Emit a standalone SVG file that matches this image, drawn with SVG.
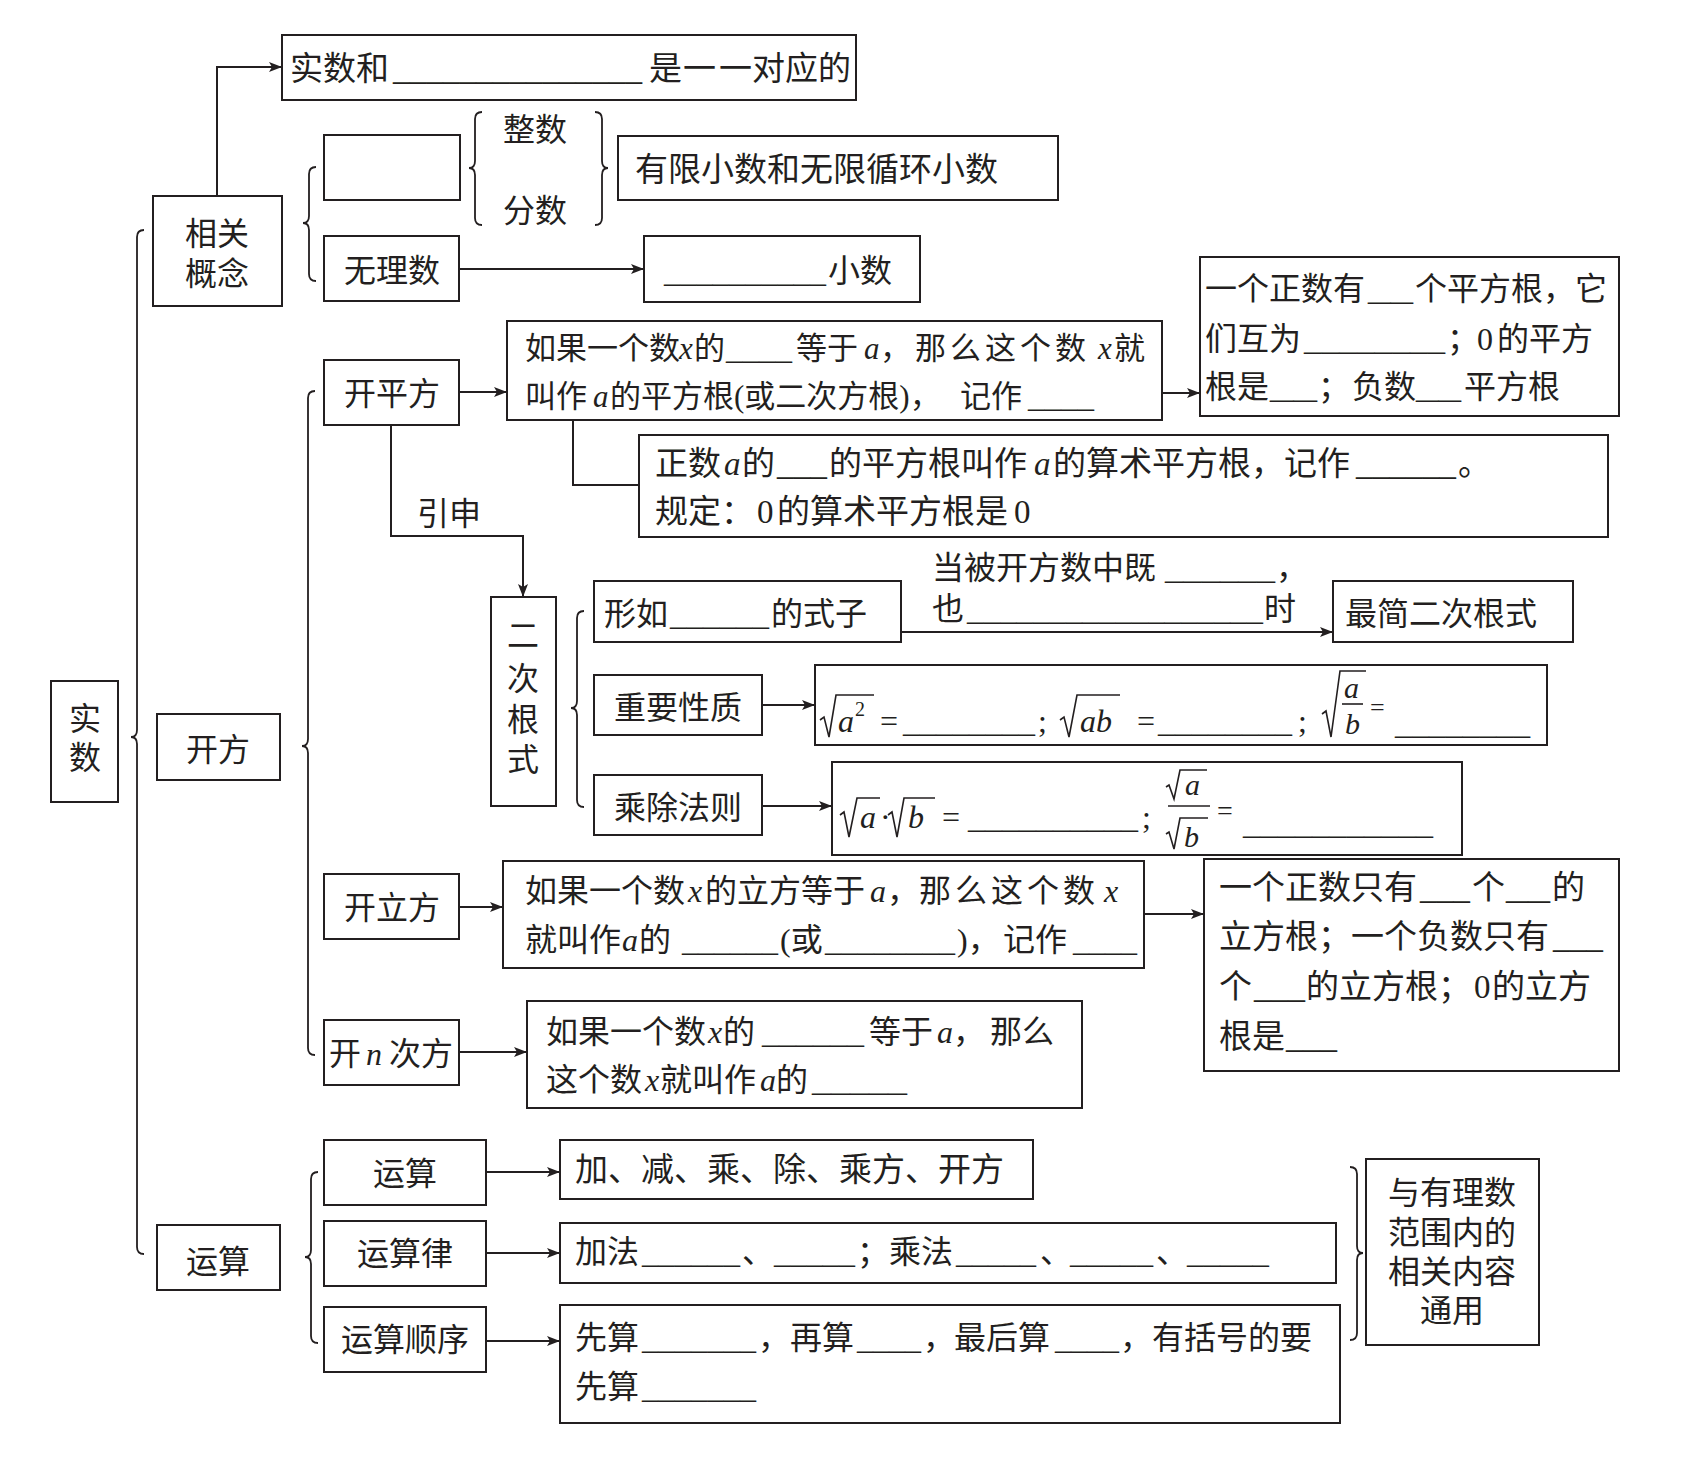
<svg xmlns="http://www.w3.org/2000/svg" width="1687" height="1465" viewBox="0 0 1687 1465">
<style>
.bx{fill:#fff;stroke:#231f20;stroke-width:2}
.ln{fill:none;stroke:#231f20;stroke-width:2}
.br{fill:none;stroke:#231f20;stroke-width:1.8}
.rd{fill:none;stroke:#231f20;stroke-width:1.6;stroke-linejoin:miter}
text{font-family:"Liberation Serif","Noto Sans CJK SC",serif;font-size:32px;fill:#231f20}
.s31{font-size:31px}
.s33{font-size:33px}
.i{font-style:italic}
.mid{text-anchor:middle}
</style>
<defs>
<marker id="ah" markerWidth="13" markerHeight="10" refX="13" refY="5" orient="auto" markerUnits="userSpaceOnUse"><path d="M0,0 L13,5 L0,10 L3,5 Z" fill="#231f20"/></marker>
</defs>
<rect width="1687" height="1465" fill="#fff"/>

<g id="connectors">
<path class="ln" d="M217,196 V67 H282" marker-end="url(#ah)"/>
<path class="ln" d="M459,269 H644" marker-end="url(#ah)"/>
<path class="ln" d="M459,392 H507" marker-end="url(#ah)"/>
<path class="ln" d="M1162,393 H1200" marker-end="url(#ah)"/>
<path class="ln" d="M573,420 V485 H639"/>
<path class="ln" d="M391,425 V536 H523 V597" marker-end="url(#ah)"/>
<path class="ln" d="M901,632 H1333" marker-end="url(#ah)"/>
<path class="ln" d="M762,705 H815" marker-end="url(#ah)"/>
<path class="ln" d="M762,806 H832" marker-end="url(#ah)"/>
<path class="ln" d="M459,907 H503" marker-end="url(#ah)"/>
<path class="ln" d="M1144,914 H1204" marker-end="url(#ah)"/>
<path class="ln" d="M459,1052 H527" marker-end="url(#ah)"/>
<path class="ln" d="M486,1172 H560" marker-end="url(#ah)"/>
<path class="ln" d="M486,1253 H560" marker-end="url(#ah)"/>
<path class="ln" d="M486,1341 H560" marker-end="url(#ah)"/>
<path class="br" d="M144,230 Q137,230 137,237 L137,730 Q137,737 131,737 Q137,737 137,744 L137,1247 Q137,1254 144,1254"/>
<path class="br" d="M316,167 Q309,167 309,174 L309,216 Q309,223 303,223 Q309,223 309,230 L309,274 Q309,281 316,281"/>
<path class="br" d="M482,112 Q475,112 475,119 L475,161 Q475,168 469,168 Q475,168 475,175 L475,218 Q475,225 482,225"/>
<path class="br" d="M595,112 Q602,112 602,119 L602,161 Q602,168 608,168 Q602,168 602,175 L602,218 Q602,225 595,225"/>
<path class="br" d="M315,391 Q308,391 308,398 L308,739 Q308,746 302,746 Q308,746 308,753 L308,1048 Q308,1055 315,1055"/>
<path class="br" d="M584,611 Q577,611 577,618 L577,701 Q577,708 571,708 Q577,708 577,715 L577,800 Q577,807 584,807"/>
<path class="br" d="M318,1172 Q311,1172 311,1179 L311,1250 Q311,1257 305,1257 Q311,1257 311,1264 L311,1336 Q311,1343 318,1343"/>
<path class="br" d="M1350,1167 Q1357,1167 1357,1174 L1357,1246 Q1357,1253 1363,1253 Q1357,1253 1357,1260 L1357,1333 Q1357,1340 1350,1340"/>
<text x="417" y="525">引申</text>
<text x="932" y="579">当被开方数中既<tspan x="1165" textLength="110" lengthAdjust="spacingAndGlyphs">______</tspan><tspan x="1276">，</tspan></text>
<text x="932" y="620">也<tspan x="967" textLength="296" lengthAdjust="spacingAndGlyphs">__________________</tspan><tspan x="1264">时</tspan></text>
</g>

<g id="n-shishu"><rect class="bx" x="51" y="681" width="67" height="121"/><text class="mid" x="85" y="730">实</text><text class="mid" x="85" y="769">数</text></g>
<g id="n-xiangguan"><rect class="bx" x="153" y="196" width="129" height="110"/><text class="mid" x="217" y="245">相关</text><text class="mid" x="217" y="285">概念</text></g>
<g id="n-top"><rect class="bx" x="282" y="35" width="574" height="65"/><text class="s33" x="290" y="80">实数和<tspan x="393" textLength="249" lengthAdjust="spacingAndGlyphs">_______________</tspan><tspan x="649">是</tspan><tspan x="683" letter-spacing="3">一一</tspan><tspan x="752">对应的</tspan></text></g>
<g id="n-rational"><rect class="bx" x="324" y="135" width="136" height="65"/></g>
<g id="n-intfrac"><text class="mid" x="535" y="141">整数</text><text class="mid" x="535" y="222">分数</text></g>
<g id="n-finite"><rect class="bx" x="618" y="136" width="440" height="64"/><text class="s33" x="635" y="181">有限小数和无限循环小数</text></g>
<g id="n-irrational"><rect class="bx" x="324" y="236" width="135" height="65"/><text class="mid" x="392" y="282">无理数</text></g>
<g id="n-decimal"><rect class="bx" x="644" y="236" width="276" height="66"/><text x="664" y="282"><tspan x="664" textLength="162" lengthAdjust="spacingAndGlyphs">__________</tspan><tspan x="828">小数</tspan></text></g>

<g id="n-kaifang"><rect class="bx" x="157" y="714" width="123" height="66"/><text class="mid" x="218" y="761">开方</text></g>
<g id="n-kpf"><rect class="bx" x="324" y="360" width="135" height="65"/><text class="mid" x="392" y="405">开平方</text></g>
<g id="n-kpf-def"><rect class="bx" x="507" y="321" width="655" height="99"/>
<text class="s31" x="525" y="359">如果一个数<tspan class="i" x="679">x</tspan><tspan x="694">的</tspan><tspan x="726" textLength="66" lengthAdjust="spacingAndGlyphs">____</tspan><tspan x="796">等于</tspan><tspan class="i" x="864">a</tspan><tspan x="880">，</tspan><tspan x="915" letter-spacing="4">那么这个数</tspan><tspan class="i" x="1098">x</tspan><tspan x="1114">就</tspan></text>
<text class="s31" x="525" y="407">叫作<tspan class="i" x="593">a</tspan><tspan x="610">的平方根(或二次方根)，</tspan><tspan x="960">记作</tspan><tspan x="1028" textLength="66" lengthAdjust="spacingAndGlyphs">____</tspan></text></g>
<g id="n-kpf-prop"><rect class="bx" x="1200" y="257" width="419" height="159"/>
<text x="1205" y="300">一个正数有<tspan x="1368" textLength="45" lengthAdjust="spacingAndGlyphs">__</tspan><tspan x="1415">个平方根，它</tspan></text>
<text x="1205" y="350">们互为<tspan x="1304" textLength="141" lengthAdjust="spacingAndGlyphs">________</tspan><tspan x="1447">；</tspan><tspan x="1477">0</tspan><tspan x="1497">的平方</tspan></text>
<text x="1205" y="398">根是<tspan x="1270" textLength="47" lengthAdjust="spacingAndGlyphs">__</tspan><tspan x="1318">；</tspan><tspan x="1352">负数</tspan><tspan x="1416" textLength="45" lengthAdjust="spacingAndGlyphs">__</tspan><tspan x="1464">平方根</tspan></text></g>
<g id="n-arith"><rect class="bx" x="639" y="435" width="969" height="102"/>
<text class="s33" x="655" y="475">正数<tspan class="i" x="724">a</tspan><tspan x="742">的</tspan><tspan x="777" textLength="50" lengthAdjust="spacingAndGlyphs">___</tspan><tspan x="829">的平方根叫作</tspan><tspan class="i" x="1034">a</tspan><tspan x="1053">的算术平方根，记作</tspan><tspan x="1356" textLength="100" lengthAdjust="spacingAndGlyphs">______</tspan><tspan x="1458">。</tspan></text>
<text class="s33" x="655" y="523">规定：<tspan x="757">0</tspan><tspan x="777">的算术平方根是</tspan><tspan x="1014">0</tspan></text></g>

<g id="n-ecgs"><rect class="bx" x="491" y="597" width="65" height="209"/><text class="mid" x="523" y="647">二</text><text class="mid" x="523" y="690">次</text><text class="mid" x="523" y="731">根</text><text class="mid" x="523" y="771">式</text></g>
<g id="n-xingru"><rect class="bx" x="594" y="581" width="307" height="61"/><text x="604" y="625">形如<tspan x="670" textLength="99" lengthAdjust="spacingAndGlyphs">______</tspan><tspan x="771">的式子</tspan></text></g>
<g id="n-zuijian"><rect class="bx" x="1333" y="581" width="240" height="61"/><text x="1345" y="625">最简二次根式</text></g>
<g id="n-zyxz"><rect class="bx" x="594" y="675" width="168" height="60"/><text class="mid" x="678" y="719">重要性质</text></g>
<g id="n-f1"><rect class="bx" x="815" y="665" width="732" height="80"/>
<path class="rd" d="M820,720 L824,717 L829,737 L836,695 H874"/>
<text class="i" x="838" y="732">a</text><text x="855" y="716" style="font-size:20px">2</text>
<text x="880" y="732">=<tspan x="903" textLength="132" lengthAdjust="spacingAndGlyphs">________</tspan><tspan x="1038">;</tspan></text>
<path class="rd" d="M1060,720 L1064,717 L1069,737 L1077,695 H1120"/>
<text class="i" x="1080" y="732">ab</text>
<text x="1137" y="732">=<tspan x="1158" textLength="134" lengthAdjust="spacingAndGlyphs">________</tspan><tspan x="1298">;</tspan></text>
<path class="rd" d="M1322,714 L1326,711 L1331,737 L1340,671 H1366"/>
<text class="i" x="1344" y="698" style="font-size:30px">a</text>
<line class="rd" x1="1342" y1="704" x2="1363" y2="704"/>
<text class="i" x="1345" y="734" style="font-size:30px">b</text>
<text x="1370" y="716" style="font-size:26px">=</text>
<text x="1395" y="734"><tspan x="1395" textLength="135" lengthAdjust="spacingAndGlyphs">________</tspan></text></g>
<g id="n-ccfz"><rect class="bx" x="594" y="775" width="168" height="60"/><text class="mid" x="678" y="819">乘除法则</text></g>
<g id="n-f2"><rect class="bx" x="832" y="762" width="630" height="93"/>
<path class="rd" d="M840,815 L844,812 L849,837 L857,798 H880"/>
<text class="i" x="860" y="828">a</text><text x="880" y="828">·</text>
<path class="rd" d="M888,815 L892,812 L897,837 L904,798 H935"/>
<text class="i" x="908" y="828">b</text>
<text x="942" y="828">=<tspan x="968" textLength="170" lengthAdjust="spacingAndGlyphs">__________</tspan><tspan x="1142">;</tspan></text>
<path class="rd" d="M1166,787 L1169,785 L1174,799 L1180,770 H1207"/>
<text class="i" x="1185" y="795" style="font-size:30px">a</text>
<line class="rd" x1="1168" y1="806" x2="1210" y2="806"/>
<path class="rd" d="M1166,834 L1169,832 L1174,849 L1180,818 H1208"/>
<text class="i" x="1184" y="847" style="font-size:30px">b</text>
<text x="1217" y="820" style="font-size:28px">=</text>
<text x="1243" y="834"><tspan x="1243" textLength="190" lengthAdjust="spacingAndGlyphs">___________</tspan></text></g>

<g id="n-klf"><rect class="bx" x="324" y="874" width="135" height="65"/><text class="mid" x="392" y="919">开立方</text></g>
<g id="n-klf-def"><rect class="bx" x="503" y="861" width="641" height="107"/>
<text x="525" y="902">如果一个数<tspan class="i" x="688">x</tspan><tspan x="705">的立方等于</tspan><tspan class="i" x="870">a</tspan><tspan x="887">，</tspan><tspan x="919" letter-spacing="4">那么这个数</tspan><tspan class="i" x="1104">x</tspan></text>
<text x="525" y="951">就叫作<tspan class="i" x="622">a</tspan><tspan x="639">的</tspan><tspan x="682" textLength="96" lengthAdjust="spacingAndGlyphs">______</tspan><tspan x="780">(或</tspan><tspan x="825" textLength="130" lengthAdjust="spacingAndGlyphs">________</tspan><tspan x="957">)，</tspan><tspan x="1003">记作</tspan><tspan x="1073" textLength="64" lengthAdjust="spacingAndGlyphs">____</tspan></text></g>
<g id="n-klf-prop"><rect class="bx" x="1204" y="859" width="415" height="212"/>
<text class="s33" x="1219" y="899">一个正数只有<tspan x="1420" textLength="50" lengthAdjust="spacingAndGlyphs">___</tspan><tspan x="1472">个</tspan><tspan x="1506" textLength="44" lengthAdjust="spacingAndGlyphs">__</tspan><tspan x="1552">的</tspan></text>
<text class="s33" x="1219" y="948">立方根；一个负数只有<tspan x="1553" textLength="50" lengthAdjust="spacingAndGlyphs">___</tspan></text>
<text class="s33" x="1219" y="998">个<tspan x="1254" textLength="51" lengthAdjust="spacingAndGlyphs">___</tspan><tspan x="1306">的立方根；</tspan><tspan x="1474">0</tspan><tspan x="1492">的立方</tspan></text>
<text class="s33" x="1219" y="1048">根是<tspan x="1286" textLength="51" lengthAdjust="spacingAndGlyphs">___</tspan></text></g>
<g id="n-knc"><rect class="bx" x="324" y="1020" width="135" height="65"/><text x="329" y="1065">开<tspan class="i" x="366">n</tspan><tspan x="389">次方</tspan></text></g>
<g id="n-knc-def"><rect class="bx" x="527" y="1001" width="555" height="107"/>
<text x="546" y="1043">如果一个数<tspan class="i" x="708">x</tspan><tspan x="723">的</tspan><tspan x="762" textLength="102" lengthAdjust="spacingAndGlyphs">______</tspan><tspan x="869">等于</tspan><tspan class="i" x="937">a</tspan><tspan x="953">，</tspan><tspan x="990">那么</tspan></text>
<text x="546" y="1091">这个数<tspan class="i" x="645">x</tspan><tspan x="660">就叫作</tspan><tspan class="i" x="760">a</tspan><tspan x="776">的</tspan><tspan x="812" textLength="95" lengthAdjust="spacingAndGlyphs">_____</tspan></text></g>

<g id="n-yunsuan"><rect class="bx" x="157" y="1225" width="123" height="65"/><text class="mid" x="218" y="1273">运算</text></g>
<g id="n-ys"><rect class="bx" x="324" y="1140" width="162" height="65"/><text class="mid" x="405" y="1185">运算</text></g>
<g id="n-ops"><rect class="bx" x="560" y="1140" width="473" height="59"/><text class="s33" x="575" y="1181">加、减、乘、除、乘方、开方</text></g>
<g id="n-ysl"><rect class="bx" x="324" y="1221" width="162" height="65"/><text class="mid" x="405" y="1265">运算律</text></g>
<g id="n-laws"><rect class="bx" x="560" y="1223" width="776" height="60"/>
<text x="575" y="1263">加法<tspan x="642" textLength="98" lengthAdjust="spacingAndGlyphs">______</tspan><tspan x="742">、</tspan><tspan x="774" textLength="81" lengthAdjust="spacingAndGlyphs">_____</tspan><tspan x="857">；</tspan><tspan x="889">乘法</tspan><tspan x="956" textLength="80" lengthAdjust="spacingAndGlyphs">_____</tspan><tspan x="1040">、</tspan><tspan x="1070" textLength="83" lengthAdjust="spacingAndGlyphs">_____</tspan><tspan x="1156">、</tspan><tspan x="1187" textLength="82" lengthAdjust="spacingAndGlyphs">_____</tspan></text></g>
<g id="n-yssx"><rect class="bx" x="324" y="1307" width="162" height="65"/><text class="mid" x="405" y="1351">运算顺序</text></g>
<g id="n-order"><rect class="bx" x="560" y="1305" width="780" height="118"/>
<text x="575" y="1349">先算<tspan x="642" textLength="114" lengthAdjust="spacingAndGlyphs">_______</tspan><tspan x="758">，</tspan><tspan x="790">再算</tspan><tspan x="857" textLength="64" lengthAdjust="spacingAndGlyphs">____</tspan><tspan x="923">，</tspan><tspan x="954">最后算</tspan><tspan x="1055" textLength="64" lengthAdjust="spacingAndGlyphs">____</tspan><tspan x="1120">，</tspan><tspan x="1152">有括号的要</tspan></text>
<text x="575" y="1398">先算<tspan x="642" textLength="114" lengthAdjust="spacingAndGlyphs">_______</tspan></text></g>
<g id="n-common"><rect class="bx" x="1366" y="1159" width="173" height="186"/><text class="mid" x="1452" y="1204">与有理数</text><text class="mid" x="1452" y="1244">范围内的</text><text class="mid" x="1452" y="1283">相关内容</text><text class="mid" x="1452" y="1322">通用</text></g>
</svg>
